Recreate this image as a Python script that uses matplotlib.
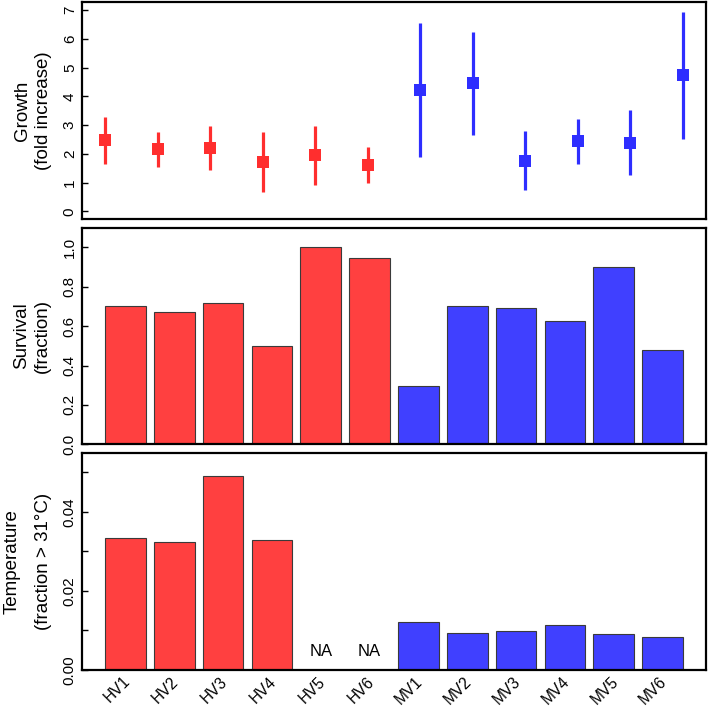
import matplotlib
matplotlib.use("Agg")
import matplotlib.pyplot as plt
import matplotlib.transforms as mtransforms
import numpy as np

plt.rcParams['font.family'] = ['Liberation Sans', 'DejaVu Sans']

sites = ["HV1", "HV2", "HV3", "HV4", "HV5", "HV6",
         "MV1", "MV2", "MV3", "MV4", "MV5", "MV6"]
groups = ["H"] * 6 + ["M"] * 6

growth_mean = [2.47, 2.16, 2.20, 1.71, 1.94, 1.60, 4.21, 4.45, 1.75, 2.43, 2.39, 4.73]
growth_low = [1.66, 1.55, 1.43, 0.66, 0.91, 0.97, 1.89, 2.65, 0.73, 1.63, 1.25, 2.52]
growth_high = [3.28, 2.76, 2.96, 2.74, 2.96, 2.24, 6.54, 6.22, 2.78, 3.22, 3.51, 6.94]

survival = [0.702, 0.670, 0.717, 0.501, 1.000, 0.944, 0.297, 0.702, 0.690, 0.628, 0.898, 0.478]

temperature = [0.0333, 0.0325, 0.0490, 0.0330, np.nan, np.nan,
               0.0122, 0.0094, 0.0099, 0.0114, 0.0091, 0.0084]

point_colors = {"H": "#FF2E2E", "M": "#2E2EFF"}
bar_colors = {"H": "#FF4040", "M": "#4040FF"}

W, H = 709, 711
fig = plt.figure(figsize=(W / 100, H / 100), dpi=100)

def ax_rect(top, bottom, left=82, right=706):
    return [left / W, (H - bottom) / H, (right - left) / W, (bottom - top) / H]

ax1 = fig.add_axes(ax_rect(2, 219.3))
ax2 = fig.add_axes(ax_rect(227.7, 444.3))
ax3 = fig.add_axes(ax_rect(452.7, 670))

tick_fs = 11
xtick_fs = 11.2
label_fs = 13.5

for ax in (ax1, ax2, ax3):
    for s in ax.spines.values():
        s.set_linewidth(1.6)
    ax.tick_params(axis='y', direction='in', length=4, width=1, pad=3.7,
                   labelsize=tick_fs)
    ax.tick_params(axis='x', length=0)

# --- Growth panel ---
xg = np.arange(1, len(sites) + 1)
for i in range(len(sites)):
    c = point_colors[groups[i]]
    ax1.plot([xg[i], xg[i]], [growth_low[i], growth_high[i]], color=c,
             lw=2.3, solid_capstyle='butt', zorder=2)
    ax1.plot(xg[i], growth_mean[i], marker='s', ms=8, color=c, mec=c, mew=0,
             zorder=3)
ax1.set_xlim(0.56, 12.44)
ax1.set_ylim(-0.28, 7.28)
ax1.set_yticks(range(0, 8))
ax1.set_xticks([])

# --- bar positions ---
xb = 0.7 + 1.2 * np.arange(len(sites))
cols = [bar_colors[g] for g in groups]

ax2.bar(xb, survival, width=1.0, color=cols, edgecolor='#3a3a3a', linewidth=0.8)
ax2.set_xlim(-0.368, 14.968)
ax2.set_ylim(0, 1.1)
ax2.set_yticks([0.0, 0.2, 0.4, 0.6, 0.8, 1.0])
ax2.set_yticklabels(["0.0", "0.2", "0.4", "0.6", "0.8", "1.0"])
ax2.set_xticks([])

temp_arr = np.array(temperature, dtype=float)
mask = ~np.isnan(temp_arr)
ax3.bar(xb[mask], temp_arr[mask], width=1.0, color=np.array(cols)[mask],
        edgecolor='#3a3a3a', linewidth=0.8)
for i in np.where(~mask)[0]:
    ax3.annotate("NA", (xb[i], 0), xytext=(0, 18.5), textcoords='offset pixels',
                 ha='center', va='center', fontsize=12)
ax3.set_xlim(-0.368, 14.968)
ax3.set_ylim(0, 0.055)
ax3.set_yticks([0.0, 0.01, 0.02, 0.03, 0.04, 0.05])
ax3.set_yticklabels(["0.00", "", "0.02", "", "0.04", ""])
ax3.set_xticks(xb)
ax3.set_xticklabels(sites, rotation=45, ha='right', va='center',
                    rotation_mode='anchor', fontsize=xtick_fs)
ax3.tick_params(axis='x', length=0, pad=6.5)
shift = mtransforms.ScaledTranslation(2 / 100, 0, fig.dpi_scale_trans)
for lab in ax3.get_xticklabels():
    lab.set_transform(lab.get_transform() + shift)

for ax in (ax1, ax2, ax3):
    for lab in ax.get_yticklabels():
        lab.set_rotation(90)
        lab.set_va('center')
        lab.set_ha('right')
        lab.set_fontsize(tick_fs)

# two-line y labels, each line placed by its baseline (pixel x)
def ylab(ax, line1, line2, x1, x2):
    bb = ax.get_position()
    yc = bb.y0 + bb.height / 2
    for txt, xp in ((line1, x1), (line2, x2)):
        fig.text(xp / W, yc, txt, rotation=90, ha='center', va='baseline',
                 rotation_mode='anchor', fontsize=label_fs)

ylab(ax1, "Growth", "(fold increase)", 27.5, 48)
ylab(ax2, "Survival", "(fraction)", 26, 47)
ylab(ax3, "Temperature", "(fraction > 31\u00b0C)", 17, 48)

fig.savefig("out.png", dpi=100)
